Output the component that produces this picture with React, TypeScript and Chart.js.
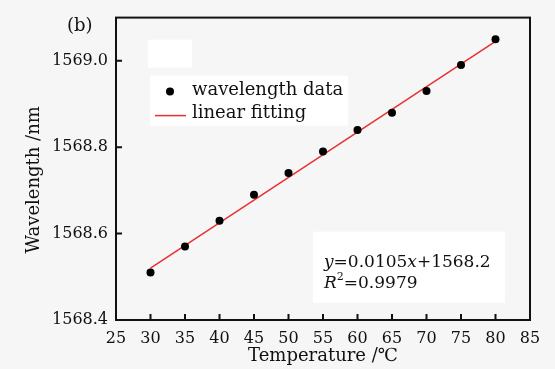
import React, { useEffect, useRef } from "react";
import { Chart, registerables } from "chart.js";

Chart.register(...registerables);

// ---- data ----
const temperatures = [30, 35, 40, 45, 50, 55, 60, 65, 70, 75, 80];
const wavelengths = [1568.51, 1568.57, 1568.63, 1568.69, 1568.74, 1568.79, 1568.84, 1568.88, 1568.93, 1568.99, 1569.05];
const fitTemperatures = [30, 80];
const fitWavelengths = [1568.52, 1569.045];
const xTickValues = [25, 30, 35, 40, 45, 50, 55, 60, 65, 70, 75, 80, 85];
const yTickValues = [1568.4, 1568.6, 1568.8, 1569.0];
const seriesLabels = ["wavelength data", "linear fitting"];
const xTitle = "Temperature /\u2103";
const yTitle = "Wavelength /nm";
const panelLabel = "(b)";
const equationLine1 = [
  { t: "y", i: true },
  { t: "=0.0105", i: false },
  { t: "x", i: true },
  { t: "+1568.2", i: false },
];
const equationR = "R";
const equationSup = "2";
const equationR2 = "=0.9979";

const FONT = "'DejaVu Serif', serif";

const decorPlugin = {
  id: "decor",
  beforeDraw(chart: any) {
    const { ctx, width, height, chartArea: a } = chart;
    ctx.save();
    ctx.fillStyle = "#f6f6f6";
    ctx.fillRect(0, 0, width, height);
    ctx.fillStyle = "#ffffff";
    // legend backdrop
    ctx.fillRect(a.left + 32, a.top + 22, 44, 28);
    ctx.fillRect(a.left + 34, a.top + 58, 198, 50);
    // equation backdrop
    ctx.fillRect(a.left + 197, a.top + 214, 192, 71);
    ctx.restore();
  },
  afterDraw(chart: any) {
    const { ctx, chartArea: a, scales } = chart;
    const xs = scales.x;
    const ys = scales.y;
    ctx.save();
    // frame
    ctx.strokeStyle = "#111";
    ctx.lineWidth = 2;
    ctx.strokeRect(a.left, a.top, a.right - a.left, a.bottom - a.top);
    // inward ticks
    ctx.beginPath();
    xs.ticks.forEach((t: any) => {
      const px = xs.getPixelForValue(t.value);
      ctx.moveTo(px, a.bottom);
      ctx.lineTo(px, a.bottom - 6);
    });
    ys.ticks.forEach((t: any) => {
      const py = ys.getPixelForValue(t.value);
      ctx.moveTo(a.left, py);
      ctx.lineTo(a.left + 6, py);
    });
    ctx.stroke();

    // legend
    const ds0 = chart.data.datasets[0];
    const ds1 = chart.data.datasets[1];
    ctx.fillStyle = ds0.backgroundColor;
    ctx.beginPath();
    ctx.arc(a.left + 54, a.top + 74, 4, 0, Math.PI * 2);
    ctx.fill();
    ctx.strokeStyle = ds1.borderColor;
    ctx.lineWidth = 1.5;
    ctx.beginPath();
    ctx.moveTo(a.left + 39, a.top + 98);
    ctx.lineTo(a.left + 70, a.top + 98);
    ctx.stroke();
    ctx.fillStyle = "#111";
    ctx.font = `18px ${FONT}`;
    ctx.textBaseline = "middle";
    ctx.textAlign = "left";
    ctx.fillText(seriesLabels[0], a.left + 76, a.top + 73);
    ctx.fillText(seriesLabels[1], a.left + 76, a.top + 96);

    // equation
    let ex = a.left + 208;
    const ey1 = a.top + 245;
    equationLine1.forEach((s) => {
      ctx.font = `${s.i ? "italic " : ""}17px ${FONT}`;
      ctx.fillText(s.t, ex, ey1);
      ex += ctx.measureText(s.t).width;
    });
    ex = a.left + 208;
    const ey2 = a.top + 266;
    ctx.font = `italic 17px ${FONT}`;
    ctx.fillText(equationR, ex, ey2);
    ex += ctx.measureText(equationR).width;
    ctx.font = `11px ${FONT}`;
    ctx.fillText(equationSup, ex, ey2 - 6);
    ex += ctx.measureText(equationSup).width;
    ctx.font = `17px ${FONT}`;
    ctx.fillText(equationR2, ex, ey2);

    // panel label
    ctx.font = `18px ${FONT}`;
    ctx.fillText(panelLabel, 67, a.top + 9);

    // y-axis title
    ctx.save();
    ctx.translate(34, (a.top + a.bottom) / 2 + 11);
    ctx.rotate(-Math.PI / 2);
    ctx.textAlign = "center";
    ctx.font = `18px ${FONT}`;
    ctx.fillText(yTitle, 0, 0);
    ctx.restore();
    ctx.restore();
  },
};

export default function App() {
  const ref = useRef<HTMLCanvasElement | null>(null);
  useEffect(() => {
    if (!ref.current) return;
    const chart = new Chart(ref.current, {
      type: "scatter",
      data: {
        datasets: [
          {
            label: seriesLabels[0],
            data: temperatures.map((x, i) => ({ x, y: wavelengths[i] })),
            backgroundColor: "#000000",
            borderColor: "#000000",
            pointRadius: 4,
            pointBorderWidth: 0,
            showLine: false,
          },
          {
            label: seriesLabels[1],
            data: fitTemperatures.map((x, i) => ({ x, y: fitWavelengths[i] })),
            borderColor: "#e83030",
            backgroundColor: "#e83030",
            borderWidth: 1.5,
            pointRadius: 0,
            showLine: true,
          },
        ],
      },
      plugins: [decorPlugin],
      options: {
        animation: false,
        responsive: true,
        maintainAspectRatio: false,
        layout: { padding: { top: 13, right: 25, left: 0, bottom: 0 } },
        plugins: { legend: { display: false }, tooltip: { enabled: false } },
        scales: {
          x: {
            type: "linear",
            min: 25,
            max: 85,
            afterBuildTicks: (s: any) => {
              s.ticks = xTickValues.map((v) => ({ value: v }));
            },
            afterFit: (s: any) => {
              s.height = 49;
            },
            grid: { display: false, drawTicks: false },
            border: { display: false },
            ticks: {
              color: "#111",
              padding: 9,
              maxRotation: 0,
              autoSkip: false,
              font: { family: FONT, size: 16 },
              callback: (v: any) => String(v),
            },
            title: {
              display: true,
              text: xTitle,
              color: "#111",
              font: { family: FONT, size: 18 },
              padding: { top: 0, bottom: 2 },
            },
          },
          y: {
            type: "linear",
            min: 1568.4,
            max: 1569.1,
            afterBuildTicks: (s: any) => {
              s.ticks = yTickValues.map((v) => ({ value: v }));
            },
            afterFit: (s: any) => {
              s.width = 116;
            },
            grid: { display: false, drawTicks: false },
            border: { display: false },
            ticks: {
              color: "#111",
              padding: 8,
              autoSkip: false,
              font: { family: FONT, size: 16 },
              callback: (v: any) => Number(v).toFixed(1),
            },
            title: { display: false },
          },
        },
      },
    });
    return () => chart.destroy();
  }, []);
  return (
    <div style={{ position: "absolute", left: 0, top: 0, width: 555, height: 369 }}>
      <canvas ref={ref} />
    </div>
  );
}
